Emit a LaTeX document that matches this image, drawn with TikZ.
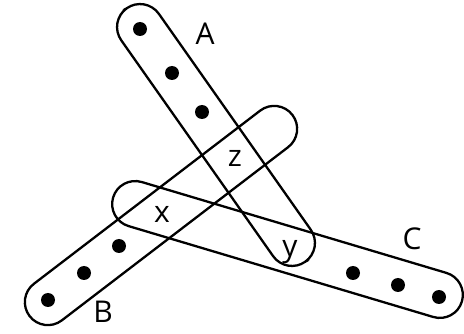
\documentclass[tikz,border=0pt]{standalone}
\usepackage{fontspec}
\setmainfont{Open Sans}
\tikzset{
  edgebox/.style={draw,line width=2.3pt,rounded corners=23pt,minimum height=46pt,inner sep=0pt},
  vtx/.style={circle,fill=black,minimum size=14pt,inner sep=0pt},
  lbl/.style={anchor=base,font=\fontsize{30}{30}\selectfont}
}
\begin{document}
\begin{tikzpicture}[x=1pt,y=-1pt]
  \useasboundingbox (0,0) rectangle (464,334);
  % hyperedges
  \node[edgebox,minimum width=310pt,rotate=-54.87] (ea) at (216,135) {};
  \node[edgebox,minimum width=331pt,rotate=37.43] (eb) at (161,215.5) {};
  \node[edgebox,minimum width=364pt,rotate=-16.61] (ec) at (287.5,249.5) {};
  % vertices
  \node[vtx] (a1) at (140,29) {};
  \node[vtx] (a2) at (172,73) {};
  \node[vtx] (a3) at (202,112) {};
  \node[vtx] (b1) at (48,300) {};
  \node[vtx] (b2) at (84,273) {};
  \node[vtx] (b3) at (119,246) {};
  \node[vtx] (c1) at (353,273) {};
  \node[vtx] (c2) at (398,285) {};
  \node[vtx] (c3) at (439,297) {};
  % labels
  \node[lbl] (la) at (205,45) {A};
  \node[lbl] (lb) at (103,323) {B};
  \node[lbl] (lc) at (412,250) {C};
  \node[lbl] (lx) at (162,223) {x};
  \node[lbl] (ly) at (290,257) {y};
  \node[lbl] (lz) at (235,167) {z};
\end{tikzpicture}
\end{document}
